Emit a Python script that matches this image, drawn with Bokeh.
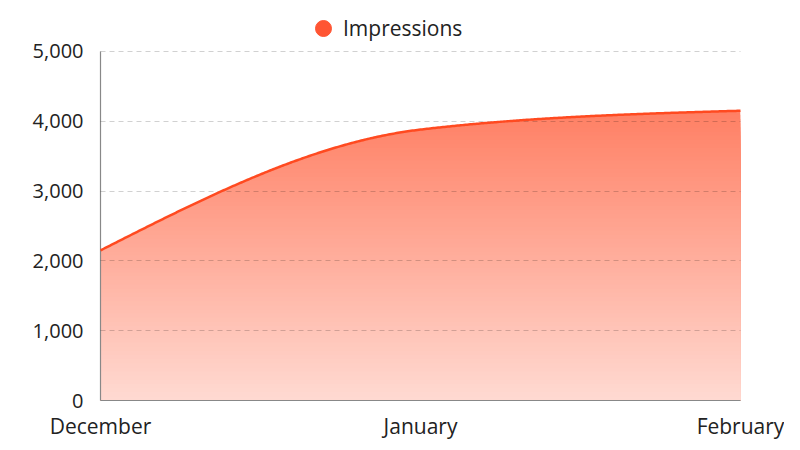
import numpy as np
from bokeh.plotting import figure
from bokeh.models import Range1d, FixedTicker, Legend, LegendItem, ColumnDataSource
from bokeh.embed import file_html
from bokeh.resources import INLINE

# ---- data ----
months = ["December", "January", "February"]
impressions = [2150, 3880, 4150]
y_ticks = [0, 1000, 2000, 3000, 4000, 5000]
y_tick_labels = ["0", "1,000", "2,000", "3,000", "4,000", "5,000"]
series_name = "Impressions"

FONT = "Open Sans"
LINE_COLOR = "#FF4A20"
BASE = (255, 87, 51)

# layout (pixels)
W, H = 784, 442
LEFT, RIGHT, TOP, BOTTOM = 100, 44, 5, 41
AXIS_TOP_PX = 51           # where the 5,000 gridline sits
LEGEND_BOTTOM_PX = 49      # bottom edge of the legend box
FRAME_H = H - TOP - BOTTOM


def monotone_x(xs, ys, n=200):
    """d3 curveMonotoneX rendering of the given points."""
    xs = np.asarray(xs, float)
    ys = np.asarray(ys, float)
    h = np.diff(xs)
    s = np.diff(ys) / h
    m = np.zeros(len(xs))
    for i in range(1, len(xs) - 1):
        p = (s[i - 1] * h[i] + s[i] * h[i - 1]) / (h[i - 1] + h[i])
        m[i] = (np.sign(s[i - 1]) + np.sign(s[i])) * min(abs(s[i - 1]), abs(s[i]), 0.5 * abs(p))
    m[0] = (3 * s[0] - m[1]) / 2
    m[-1] = (3 * s[-1] - m[-2]) / 2
    out_x, out_y = [], []
    for i in range(len(xs) - 1):
        t = np.linspace(0, 1, n, endpoint=(i == len(xs) - 2))
        h00 = 2 * t**3 - 3 * t**2 + 1
        h10 = t**3 - 2 * t**2 + t
        h01 = -2 * t**3 + 3 * t**2
        h11 = t**3 - t**2
        out_x.append(xs[i] + t * h[i])
        out_y.append(h00 * ys[i] + h10 * h[i] * m[i] + h01 * ys[i + 1] + h11 * h[i] * m[i + 1])
    return np.concatenate(out_x), np.concatenate(out_y)


xpos = list(range(len(months)))
cx, cy = monotone_x(xpos, impressions)

y_max_tick = y_ticks[-1]
axis_px = (H - BOTTOM) - AXIS_TOP_PX
y_end = y_max_tick * FRAME_H / axis_px   # extra room above 5,000 for the legend

p = figure(width=W, height=H, output_backend="svg", toolbar_location=None,
           x_range=Range1d(0, len(months) - 1), y_range=Range1d(0, y_end),
           min_border_left=LEFT, min_border_right=RIGHT, min_border_top=TOP,
           min_border_bottom=BOTTOM)
p.outline_line_color = None
p.background_fill_color = "white"

# gradient fill drawn as stacked bands (top band first, then lower bands on top)
ymax = max(impressions)
nb = 70
edges = np.linspace(0, ymax, nb + 1)
for k in range(nb, 0, -1):
    hi = edges[k] if k < nb else ymax * 1.01
    frac = (edges[k - 1] + edges[k]) / 2 / ymax
    a = 0.22 + (0.76 - 0.22) * frac
    col = tuple(int(round(255 * (1 - a) + c * a)) for c in BASE)
    p.varea(x=cx, y1=np.zeros_like(cy), y2=np.minimum(cy, hi),
            fill_color="#%02x%02x%02x" % col, fill_alpha=1.0)

line = p.line(cx, cy, line_color=LINE_COLOR, line_width=2.5)
line.level = "overlay"

# axes
p.xaxis.ticker = FixedTicker(ticks=xpos)
p.xaxis.major_label_overrides = {i: m for i, m in enumerate(months)}
p.yaxis.ticker = FixedTicker(ticks=y_ticks)
p.yaxis.major_label_overrides = {t: l for t, l in zip(y_ticks, y_tick_labels)}
p.yaxis.bounds = (0, y_max_tick)
for ax in (p.xaxis, p.yaxis):
    ax.axis_line_color = "#888888"
    ax.axis_line_width = 1.2
    ax.major_tick_line_color = None
    ax.minor_tick_line_color = None
    ax.major_tick_in = 0
    ax.major_tick_out = 0
    ax.major_label_text_font = FONT
    ax.major_label_text_color = "#222222"
p.yaxis.major_label_text_font_size = "20px"
p.xaxis.major_label_text_font_size = "21px"
p.yaxis.major_label_standoff = 17
p.xaxis.major_label_standoff = 11

p.xgrid.visible = False
p.ygrid.grid_line_color = "#000000"
p.ygrid.grid_line_alpha = 0.18
p.ygrid.grid_line_dash = "5 4"
p.ygrid.level = "annotation"

# legend (inside the frame, above the 5,000 line); NaN point keeps the glyph style
src = ColumnDataSource(dict(x=[np.nan], y=[np.nan]))
dummy = p.circle("x", "y", source=src, radius=0.01,
                 fill_color="#FF5533", line_color="#FF5533")
legend = Legend(items=[LegendItem(label=series_name, renderers=[dummy])],
                orientation="horizontal",
                location=(203, (H - BOTTOM) - LEGEND_BOTTOM_PX),
                border_line_color=None, background_fill_alpha=0,
                label_text_font=FONT, label_text_font_size="21px",
                label_text_color="#222222", label_height=16,
                glyph_width=40, glyph_height=40, padding=0, margin=0, spacing=0,
                label_standoff=0)
p.add_layout(legend, "center")

open("out.html", "w").write(file_html(p, INLINE))
